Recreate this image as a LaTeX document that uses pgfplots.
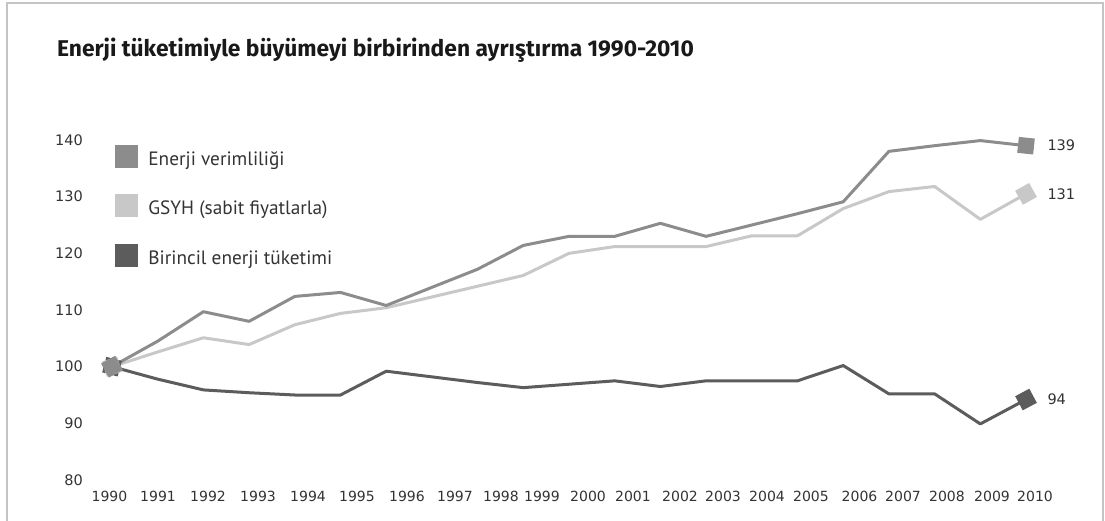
\documentclass[border=0pt]{standalone}
\usepackage{pgfplots}
\pgfplotsset{compat=1.18}
\usepackage{fontspec}
\setmainfont{PT Sans}
\newfontfamily\titlefont{Fira Sans}
\newfontfamily\tickfont{DejaVu Sans}
\definecolor{cE}{HTML}{8C8C8C}
\definecolor{cG}{HTML}{C8C8C8}
\definecolor{cB}{HTML}{5C5C5C}
\definecolor{frm}{HTML}{C4C4C4}
\definecolor{txt}{HTML}{333333}

\pgfplotstableread{
x E G B
0 100 100 100
1 104.5 102.6 97.8
2 109.7 105.1 95.9
3 108.0 103.9 95.4
4 112.4 107.4 95.0
5 113.1 109.4 95.0
6 110.8 110.4 99.2
7 114.0 112.3 98.2
8 117.2 114.2 97.2
9 121.4 116.1 96.3
10 123.0 120.0 96.9
11 123.0 121.2 97.5
12 125.3 121.2 96.5
13 123.0 121.2 97.5
14 125.0 123.1 97.5
15 127.0 123.1 97.5
16 129.1 127.9 100.2
17 138.0 130.9 95.2
18 139.0 131.8 95.2
19 139.9 126.0 89.9
20 139.0 130.5 94.2
}\datatable

\begin{document}
\begin{tikzpicture}[x=1bp,y=1bp]
\useasboundingbox (0,0) rectangle (1105,521);
\draw[frm, line width=1.5bp] (7,-2) -- (7,518) -- (1103,518) -- (1103,-2);
\node[anchor=base west, inner sep=0pt, font=\titlefont\fontsize{22.8bp}{27bp}\selectfont\bfseries, text=black!90] at (57,464) {Enerji tüketimiyle büyümeyi birbirinden ayrıştırma 1990-2010};
\begin{axis}[
  at={(66.3bp,41bp)}, anchor=south west,
  scale only axis, width=1005.4bp, height=368.3bp,
  xmin=-1, xmax=21, ymin=80, ymax=145,
  axis line style={draw=none}, tick style={draw=none},
  /pgf/number format/assume math mode=true,
  ytick={80,90,...,140},
  xtick={-0.055,1.007,2.101,3.195,4.289,5.361,6.455,7.505,8.512,9.409,10.416,11.400,12.429,13.370,14.333,15.295,16.357,17.309,18.271,19.256,20.197},
  xticklabels={1990,1991,1992,1993,1994,1995,1996,1997,1998,1999,2000,2001,2002,2003,2004,2005,2006,2007,2008,2009,2010},
  yticklabel style={font=\tickfont\fontsize{14.5bp}{17bp}\selectfont, text=txt, anchor=east, inner sep=0pt, xshift=16.7bp},
  xticklabel style={font=\tickfont\fontsize{14bp}{17bp}\selectfont, text=txt, anchor=center, inner sep=0pt, yshift=-16bp},
  clip=false,
  legend style={at={(0.0484,0.9096)}, anchor=north west, draw=none, fill=none, inner sep=0pt, outer sep=0pt, row sep=27bp, font=\fontsize{19.3bp}{22bp}\selectfont, text=txt, nodes={inner sep=0pt}, /tikz/every odd column/.append style={column sep=11bp}},
  legend cell align=left,
  legend image code/.code={\fill[#1] (0bp,-8bp) rectangle (22bp,14bp);},
  every node near coord/.style={anchor=west, xshift=21bp, inner sep=0pt, font=\tickfont\fontsize{14.5bp}{17bp}\selectfont, text=txt},
]
\addlegendimage{cE}
\addlegendentry{Enerji verimliliği}
\addlegendimage{cG}
\addlegendentry{GSYH (sabit fiyatlarla)}
\addlegendimage{cB}
\addlegendentry{Birincil enerji tüketimi}

\addplot[cB, line width=3bp, line join=round, forget plot] table[x=x, y=B] {\datatable};
\addplot[cG, line width=3bp, line join=round, forget plot] table[x=x, y=G] {\datatable};
\addplot[cE, line width=3bp, line join=round, forget plot] table[x=x, y=E] {\datatable};

\addplot[only marks, forget plot, mark=square*, mark size=7.5bp, mark options={fill=cB, draw=cB, line width=1bp, rotate=-15}] coordinates {(0,100)};
\addplot[only marks, forget plot, mark=square*, mark size=7.5bp, mark options={fill=cG, draw=cG, line width=1bp, rotate=18}] coordinates {(0,100)};
\addplot[only marks, forget plot, mark=square*, mark size=7.5bp, mark options={fill=cE, draw=cE, line width=1bp, rotate=29}] coordinates {(0,100)};

\addplot[only marks, forget plot, mark=square*, mark size=7.5bp, mark options={fill=cE, draw=cE, line width=1bp, rotate=-6}, nodes near coords={139}] coordinates {(20,139.0)};
\addplot[only marks, forget plot, mark=square*, mark size=7.5bp, mark options={fill=cG, draw=cG, line width=1bp, rotate=29}, nodes near coords={131}] coordinates {(20,130.5)};
\addplot[only marks, forget plot, mark=square*, mark size=7.5bp, mark options={fill=cB, draw=cB, line width=1bp, rotate=28}, nodes near coords={94}] coordinates {(20,94.2)};
\end{axis}
\end{tikzpicture}
\end{document}
